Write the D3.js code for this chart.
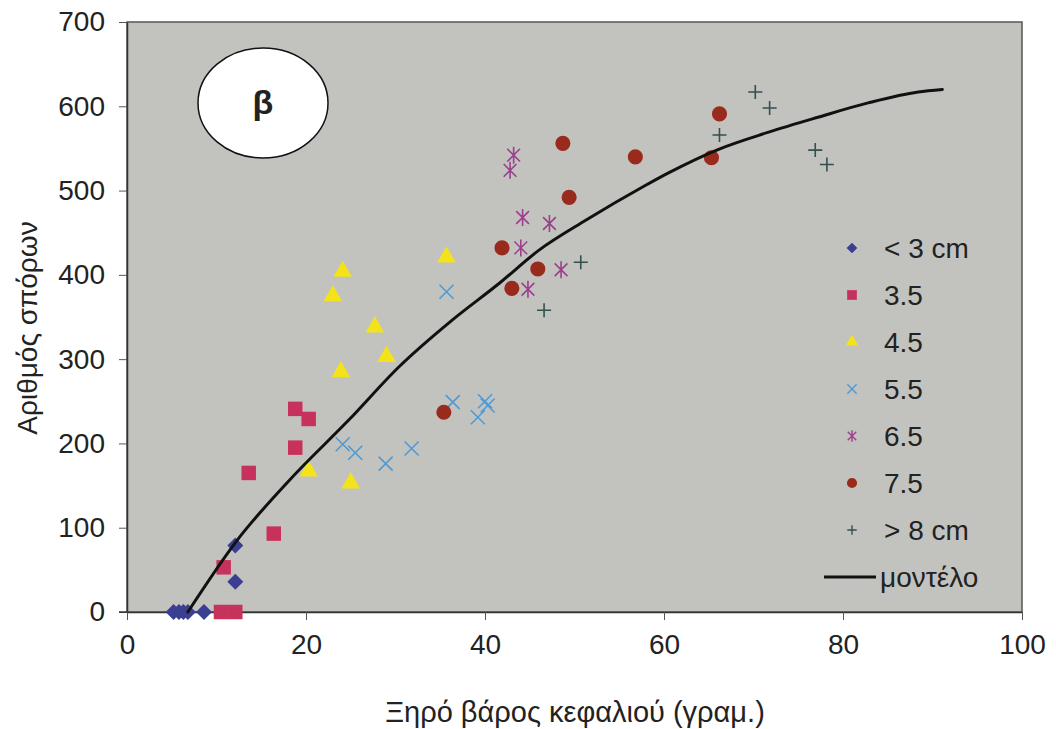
<!DOCTYPE html>
<html>
<head>
<meta charset="utf-8">
<script src="https://cdn.jsdelivr.net/npm/d3@7"></script>
<style>
  body { margin: 0; background: #fff; }
  text { font-family: "Liberation Sans", Arial, sans-serif; fill: #222; }
</style>
</head>
<body>
<svg id="chart" width="1056" height="729"></svg>
<script>
// series data: [dry head weight (g), number of seeds]
const seriesNames = ["< 3 cm", "3.5", "4.5", "5.5", "6.5", "7.5", "> 8 cm"];
const s_lt3 = [[5.2,0],[5.8,0],[6.3,0],[6.8,0],[8.6,0],[12.1,79],[12.1,36]];
const s_35 = [[18.8,241],[20.3,229],[18.8,195],[13.6,165],[16.4,93],[10.8,53],[10.5,0],[12.1,0]];
const s_45 = [[24.1,404],[23.0,375],[27.7,338],[29.0,303],[23.9,285],[20.3,167],[25.0,153],[35.7,421]];
const s_55 = [[24.1,199],[25.5,189],[28.9,176],[31.8,194],[35.7,380],[36.4,249],[39.2,231],[40.0,250],[40.3,245]];
const s_65 = [[43.2,542],[42.8,524],[44.2,468],[47.2,461],[44.0,432],[48.5,406],[44.8,383]];
const s_75 = [[48.7,556],[49.4,492],[41.9,432],[45.9,407],[43.0,384],[35.4,237],[56.8,540],[66.2,591],[65.3,539]];
const s_gt8 = [[50.7,415],[46.6,358],[70.2,617],[71.8,598],[66.2,566],[76.9,548],[78.2,531]];

// model curve (μοντέλο)
const modelX = [6.8, 12.3, 18.2, 24.8, 30.4, 36.3, 41.6, 46.0, 51.3, 57.9, 60.5, 66.1, 71.6, 77.2, 82.8, 88.4, 91.1];
const modelY = [0, 85, 157, 228, 291, 346, 390, 429, 465, 506, 521, 549, 569, 587, 604, 617, 620];

const xTicks = [0, 20, 40, 60, 80, 100];
const yTicks = [0, 100, 200, 300, 400, 500, 600, 700];

const svg = d3.select("#chart");
const x = d3.scaleLinear().domain([0, 100]).range([127, 1022]);
const y = d3.scaleLinear().domain([0, 700]).range([612, 22]);

// plot area
svg.append("rect")
  .attr("x", x(0)).attr("y", y(700))
  .attr("width", x(100) - x(0)).attr("height", y(0) - y(700))
  .attr("fill", "#c2c3bf").attr("stroke", "#555").attr("stroke-width", 1.5);

// axes
const xAxis = d3.axisBottom(x).tickValues(xTicks).tickSize(8).tickPadding(14).tickSizeOuter(0);
const yAxis = d3.axisLeft(y).tickValues(yTicks).tickSize(8).tickPadding(14).tickSizeOuter(0);

const gx = svg.append("g").attr("transform", `translate(0,${y(0)})`).call(xAxis);
const gy = svg.append("g").attr("transform", `translate(${x(0)},0)`).call(yAxis);
[gx, gy].forEach(g => {
  g.select(".domain").attr("stroke", "#333").attr("stroke-width", 1.5);
  g.selectAll(".tick line").attr("stroke", "#555");
  g.selectAll(".tick text")
    .style("font-family", "Liberation Sans, Arial, sans-serif")
    .style("font-size", "28px").attr("fill", "#222");
});
// x axis line runs a little past the y axis, as in the original
svg.append("line").attr("x1", x(0) - 8).attr("x2", x(0))
  .attr("y1", y(0)).attr("y2", y(0)).attr("stroke", "#333").attr("stroke-width", 1.5);

// axis titles
svg.append("text").attr("x", 575).attr("y", 722)
  .attr("text-anchor", "middle").style("font-size", "29px")
  .text("Ξηρό βάρος κεφαλιού (γραμ.)");
svg.append("text")
  .attr("transform", "translate(37,328) rotate(-90)")
  .attr("text-anchor", "middle").style("font-size", "28px")
  .text("Αριθμός σπόρων");

// label ellipse
svg.append("ellipse").attr("cx", 263).attr("cy", 103).attr("rx", 65).attr("ry", 55)
  .attr("fill", "#fff").attr("stroke", "#111").attr("stroke-width", 1.5);
svg.append("text").attr("x", 263).attr("y", 114).attr("text-anchor", "middle")
  .style("font-size", "34px").style("font-weight", "bold").text("β");

// marker shapes
function diamondPath(r) {
  return `M0,${-r}L${r},0L0,${r}L${-r},0Z`;
}
function starPath(r) {
  const d = r * 0.75;
  return `M0,${-r}L0,${r}M${-d},${-d}L${d},${d}M${-d},${d}L${d},${-d}`;
}
function timesPath(r) {
  return `M${-r},${-r}L${r},${r}M${-r},${r}L${r},${-r}`;
}
function plusPath(r) {
  return `M${-r},0L${r},0M0,${-r}L0,${r}`;
}

const styles = [
  { data: s_lt3, shape: s => diamondPath(8 * Math.sqrt(s)), fill: "#3b3f92", stroke: "none" },
  { data: s_35, shape: s => d3.symbol(d3.symbolSquare, 210 * s)(), fill: "#c7325c", stroke: "none" },
  { data: s_45, shape: s => d3.symbol(d3.symbolTriangle, 150 * s)(), fill: "#f4e318", stroke: "none" },
  { data: s_55, shape: s => timesPath(7 * Math.sqrt(s)), fill: "none", stroke: "#4d9ad6" },
  { data: s_65, shape: s => starPath(8.5 * Math.sqrt(s)), fill: "none", stroke: "#9c3f8e" },
  { data: s_75, shape: s => d3.symbol(d3.symbolCircle, 180 * s)(), fill: "#982b1c", stroke: "none" },
  { data: s_gt8, shape: s => plusPath(7 * Math.sqrt(s)), fill: "none", stroke: "#34504f" }
];

// model line
const model = modelX.map((v, i) => [v, modelY[i]]);
const line = d3.line().x(d => x(d[0])).y(d => y(d[1])).curve(d3.curveMonotoneX);

const pts = svg.append("g");
styles.forEach(st => {
  pts.selectAll(null).data(st.data).enter().append("path")
    .attr("transform", d => `translate(${x(d[0])},${y(d[1])})`)
    .attr("d", st.shape(1))
    .attr("fill", st.fill).attr("stroke", st.stroke).attr("stroke-width", 1.6);
});

svg.append("path").datum(model)
  .attr("d", line).attr("fill", "none")
  .attr("stroke", "#111").attr("stroke-width", 3).attr("stroke-linecap", "round");

// legend
const legend = svg.append("g");
const rowY = d3.range(8).map(i => 248 + i * 47);
styles.forEach((st, i) => {
  legend.append("path")
    .attr("transform", `translate(852,${rowY[i]})`)
    .attr("d", st.shape(0.45))
    .attr("fill", st.fill).attr("stroke", st.stroke).attr("stroke-width", 1.4);
  legend.append("text").attr("x", 884).attr("y", rowY[i] + 10)
    .style("font-size", "28px").text(seriesNames[i]);
});
legend.append("line").attr("x1", 824).attr("x2", 876)
  .attr("y1", rowY[7]).attr("y2", rowY[7]).attr("stroke", "#111").attr("stroke-width", 3);
legend.append("text").attr("x", 880).attr("y", rowY[7] + 10)
  .style("font-size", "28px").text("μοντέλο");
</script>
</body>
</html>
